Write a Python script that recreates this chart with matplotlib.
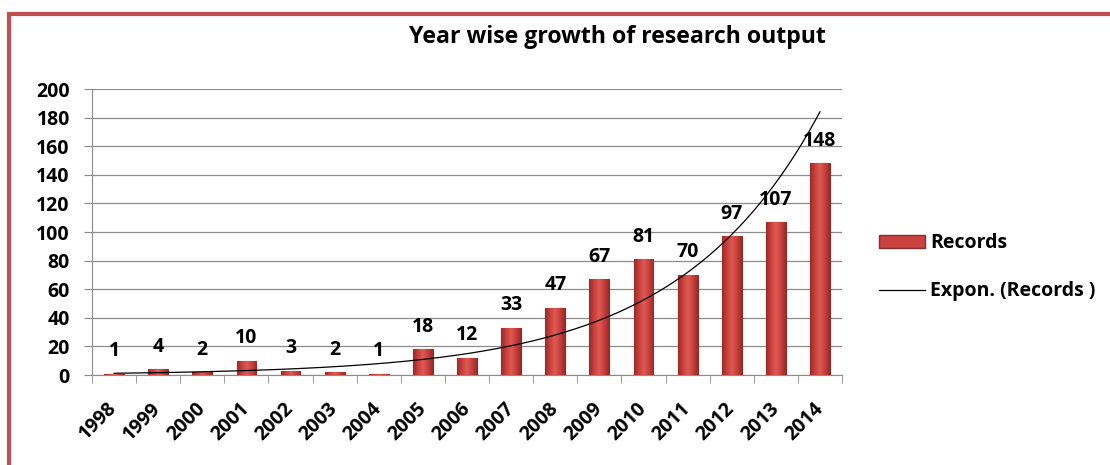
import numpy as np
import matplotlib.pyplot as plt
from matplotlib.patches import Rectangle
from matplotlib.lines import Line2D
from matplotlib.colors import LinearSegmentedColormap

plt.rcParams['font.family'] = ['Open Sans', 'DejaVu Sans']
plt.rcParams['font.weight'] = 'bold'

years = ['1998', '1999', '2000', '2001', '2002', '2003', '2004', '2005', '2006',
         '2007', '2008', '2009', '2010', '2011', '2012', '2013', '2014']
records = [1, 4, 2, 10, 3, 2, 1, 18, 12, 33, 47, 67, 81, 70, 97, 107, 148]

fig = plt.figure(figsize=(11.1, 4.65), dpi=100)
ax = fig.add_axes([0.0829, 0.1935, 0.6757, 0.615])

x = np.arange(len(years))
bw = 0.45
bars = ax.bar(x, records, width=bw, color='#C9423F', edgecolor='#8E2A27',
              linewidth=0.8, zorder=3)
# shade each bar: dark edges, light middle
shade = LinearSegmentedColormap.from_list(
    'shade', ['#9A2B28', '#C8403C', '#DE5A55', '#C8403C', '#9A2B28'])
grad = np.linspace(0, 1, 64).reshape(1, -1)
for bar in bars:
    im = ax.imshow(grad, cmap=shade, aspect='auto', zorder=3.5,
                   extent=[bar.get_x(), bar.get_x() + bar.get_width(),
                           0, bar.get_height()])
    im.set_clip_path(bar)

# exponential trend, fitted on log values like a spreadsheet trendline
n = np.arange(1, len(years) + 1)
b, a = np.polyfit(n, np.log(records), 1)
xs = np.linspace(1, len(years), 200)
ax.plot(xs - 1, np.exp(a + b * xs), color='black', lw=0.9, zorder=4)

for xi, v in zip(x, records):
    ax.annotate(str(v), (xi, v), xytext=(0, 9), textcoords='offset points',
                ha='center', va='bottom', fontsize=14, fontweight='bold', zorder=5)

ax.set_xlim(-0.5, len(years) - 0.5)
ax.set_ylim(0, 200)
ax.set_yticks(range(0, 201, 20))
ax.set_xticks(x)
ax.set_xticklabels(years, rotation=45, ha='right', va='center',
                   rotation_mode='anchor', fontsize=14, fontweight='bold')
ax.tick_params(axis='x', length=0, pad=22)
ax.set_xticks(np.arange(-0.5, len(years)), minor=True)
ax.tick_params(axis='x', which='minor', length=6, color='#888888')
ax.tick_params(axis='y', labelsize=14, length=6, pad=10, color='#888888')
for lbl in ax.get_yticklabels():
    lbl.set_fontweight('bold')
ax.grid(axis='y', color='#8C8C8C', lw=0.9, zorder=0)
for s in ['top', 'right']:
    ax.spines[s].set_visible(False)
ax.spines['left'].set_color('#8C8C8C')
ax.spines['bottom'].set_color('#8C8C8C')

fig.text(0.556, 0.92, 'Year wise growth of research output', ha='center',
         va='center', fontsize=16.7, fontweight='bold')

handles = [Rectangle((0, 0), 1, 1, facecolor='#C9423F', edgecolor='#8E2A27'),
           Line2D([0], [0], color='black', lw=0.9)]
fig.legend(handles, ['Records', 'Expon. (Records )'], loc='center left',
           bbox_to_anchor=(0.776, 0.425), frameon=False, fontsize=14,
           handlelength=2.35, labelspacing=1.45, handletextpad=0.3)

# red frame around the chart
fig.add_artist(Rectangle((0.008, -0.05), 1.1, 1.02, transform=fig.transFigure,
                         fill=False, edgecolor='#C0504D', lw=3))

fig.savefig('out.png', dpi=100)
